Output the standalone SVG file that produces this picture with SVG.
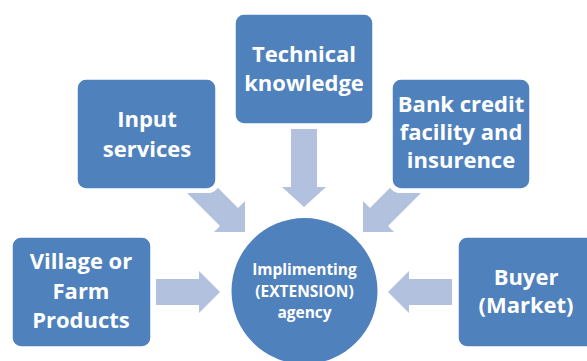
<svg xmlns="http://www.w3.org/2000/svg" width="587" height="361" viewBox="0 0 587 361">
<style>
.box{fill:#4F81BD;stroke:#fff;stroke-width:1.5}
.arr{fill:#B2C2DE}
.t{font-family:"Open Sans","Liberation Sans",sans-serif;font-weight:bold;fill:#fff;text-anchor:middle;font-size:22px}
.c{font-size:15.5px}
</style>
<rect width="587" height="361" fill="#fff"/>
<g id="connectors">
<path class="arr" d="M291,129 L317,129 L317,187 L326,187 L304,207 L282,187 L291,187 Z"/>
<path class="arr" d="M187,193 L208,193 A12,12 0 0,0 217.9,187.8 L238,208 L245,201 L245,232 L214,232 L220,226 Z"/>
<path class="arr" d="M421,193 L400,193 A12,12 0 0,1 390.1,187.8 L370,208 L363,201 L363,232 L394,232 L388,226 Z"/>
<path class="arr" d="M156,279 L199,279 L199,271 L220,292 L199,313 L199,305 L156,305 Z"/>
<path class="arr" d="M452,279 L409,279 L409,271 L388,292 L409,313 L409,305 L452,305 Z"/>
</g>
<g id="technical">
<rect class="box" x="235" y="14" width="138" height="110" rx="9"/>
<text class="t" x="304" y="62">Technical</text>
<text class="t" x="304" y="91">knowledge</text>
</g>
<g id="input">
<rect class="box" x="77" y="79" width="139" height="110" rx="9"/>
<text class="t" x="147" y="127">Input</text>
<text class="t" x="147" y="157">services</text>
</g>
<g id="bank">
<rect class="box" x="392" y="79" width="138" height="110" rx="9"/>
<text class="t" x="461" y="112">Bank credit</text>
<text class="t" x="461" y="140">facility and</text>
<text class="t" x="461" y="168">insurence</text>
</g>
<g id="village">
<rect class="box" x="12" y="237" width="139" height="110" rx="9"/>
<text class="t" x="81" y="269">Village or</text>
<text class="t" x="81" y="299">Farm</text>
<text class="t" x="81" y="328">Products</text>
</g>
<g id="buyer">
<rect class="box" x="458" y="237" width="138" height="110" rx="9"/>
<text class="t" x="526" y="285">Buyer</text>
<text class="t" x="526" y="313">(Market)</text>
</g>
<g id="agency">
<circle cx="304.5" cy="291" r="73" fill="#4F81BD"/>
<text class="t c" x="304.5" y="275">Implimenting</text>
<text class="t c" x="304.5" y="297">(EXTENSION)</text>
<text class="t c" x="304.5" y="318">agency</text>
</g>
</svg>
